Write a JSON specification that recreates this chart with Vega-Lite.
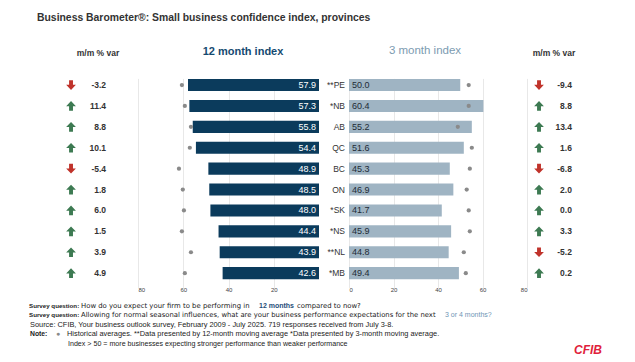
{
  "$schema": "https://vega.github.io/schema/vega-lite/v6.json",
  "width": 635,
  "height": 362,
  "autosize": "none",
  "padding": 0,
  "background": "white",
  "config": {
    "view": {"stroke": null},
    "font": "Liberation Sans",
    "locale": {"number": {"decimal": ".", "thousands": ",", "grouping": [3], "currency": ["$", ""], "minus": "-"}}
  },
  "datasets": {
    "prov": [
      {"prov": "**PE", "idx12": 57.9, "idx3": 50.0, "hist12": 60.6, "hist3": 53.8, "var12": -3.2, "var3": -9.4},
      {"prov": "*NB", "idx12": 57.3, "idx3": 60.4, "hist12": 59.3, "hist3": 53.8, "var12": 11.4, "var3": 8.8},
      {"prov": "AB", "idx12": 55.8, "idx3": 55.2, "hist12": 56.6, "hist3": 48.9, "var12": 8.8, "var3": 13.4},
      {"prov": "QC", "idx12": 54.4, "idx3": 51.6, "hist12": 57.1, "hist3": 55.2, "var12": 10.1, "var3": 1.6},
      {"prov": "BC", "idx12": 48.9, "idx3": 45.3, "hist12": 61.9, "hist3": 54.3, "var12": -5.4, "var3": -6.8},
      {"prov": "ON", "idx12": 48.5, "idx3": 46.9, "hist12": 60.2, "hist3": 52.9, "var12": 1.8, "var3": 2.0},
      {"prov": "*SK", "idx12": 48.0, "idx3": 41.7, "hist12": 59.7, "hist3": 53.8, "var12": 6.0, "var3": 0.0},
      {"prov": "*NS", "idx12": 44.4, "idx3": 45.9, "hist12": 60.6, "hist3": 54.3, "var12": 1.5, "var3": 3.3},
      {"prov": "**NL", "idx12": 43.9, "idx3": 44.8, "hist12": 56.6, "hist3": 51.6, "var12": 3.9, "var3": -5.2},
      {"prov": "*MB", "idx12": 42.6, "idx3": 49.4, "hist12": 59.3, "hist3": 52.5, "var12": 4.9, "var3": 0.2}
    ]
  },
  "resolve": {"scale": {"x": "independent"}, "axis": {"x": "independent"}},
  "layer": [
    {
      "data": {"name": "prov"},
      "encoding": {
        "y": {"field": "prov", "type": "nominal", "sort": null, "axis": null,
              "scale": {"range": [74.6, 283.6], "paddingInner": 0.42, "paddingOuter": 0.21}}
      },
      "layer": [
        {
          "mark": {"type": "bar", "color": "#0b3b5c"},
          "encoding": {
            "x": {"field": "idx12", "type": "quantitative",
                  "scale": {"domain": [0, 80], "range": [319, 138], "nice": false},
                  "axis": {"orient": "bottom", "offset": -78.4, "values": [20, 40, 60, 80], "grid": true, "gridColor": "#e8e8e8", "domain": false, "ticks": false, "labelFontSize": 6, "labelColor": "#444", "labelPadding": 3, "title": null}}
          }
        },
        {
          "mark": {"type": "point", "filled": true, "color": "#8a8a8a", "size": 18, "opacity": 1},
          "encoding": {"x": {"field": "hist12", "type": "quantitative"}}
        },
        {
          "mark": {"type": "text", "align": "right", "baseline": "middle", "dx": -3, "color": "#ffffff", "fontSize": 9},
          "encoding": {"x": {"datum": 0, "type": "quantitative"}, "text": {"field": "idx12", "type": "quantitative", "format": ".1f"}}
        },
        {
          "mark": {"type": "point", "filled": true, "size": 95, "opacity": 1},
          "encoding": {
            "x": {"datum": 109.6, "type": "quantitative"},
            "shape": {"condition": {"test": "datum.var12 < 0", "value": "M0,1L1,-0.05L0.4,-0.05L0.4,-1L-0.4,-1L-0.4,-0.05L-1,-0.05Z"}, "value": "M0,-1L1,0.05L0.4,0.05L0.4,1L-0.4,1L-0.4,0.05L-1,0.05Z"},
            "color": {"condition": {"test": "datum.var12 < 0", "value": "#c0332b"}, "value": "#3d7a52"}
          }
        },
        {
          "mark": {"type": "text", "align": "right", "baseline": "middle", "color": "#333333", "fontSize": 8.5, "fontWeight": "bold"},
          "encoding": {"x": {"datum": 94.1, "type": "quantitative"}, "text": {"field": "var12", "type": "quantitative", "format": ".1f"}}
        }
      ]
    },
    {
      "data": {"name": "prov"},
      "encoding": {
        "y": {"field": "prov", "type": "nominal", "sort": null, "axis": null,
              "scale": {"range": [74.6, 283.6], "paddingInner": 0.42, "paddingOuter": 0.21}}
      },
      "layer": [
        {
          "mark": {"type": "bar", "color": "#9fb4c3"},
          "encoding": {
            "x": {"field": "idx3", "type": "quantitative",
                  "scale": {"domain": [0, 80], "range": [349, 527], "nice": false},
                  "axis": {"orient": "bottom", "offset": -78.4, "values": [0, 20, 40, 60, 80], "grid": true, "gridColor": "#e8e8e8", "domain": false, "ticks": false, "labelFontSize": 6, "labelColor": "#444", "labelPadding": 3, "title": null}}
          }
        },
        {
          "mark": {"type": "point", "filled": true, "color": "#8a8a8a", "size": 18, "opacity": 1},
          "encoding": {"x": {"field": "hist3", "type": "quantitative"}}
        },
        {
          "mark": {"type": "text", "align": "left", "baseline": "middle", "dx": 3, "color": "#1e2b36", "fontSize": 9},
          "encoding": {"x": {"datum": 0, "type": "quantitative"}, "text": {"field": "idx3", "type": "quantitative", "format": ".1f"}}
        },
        {
          "mark": {"type": "text", "align": "right", "baseline": "middle", "dx": -4, "color": "#333333", "fontSize": 8.5},
          "encoding": {"x": {"datum": 0, "type": "quantitative"}, "text": {"field": "prov", "type": "nominal"}}
        },
        {
          "mark": {"type": "point", "filled": true, "size": 95, "opacity": 1},
          "encoding": {
            "x": {"datum": 85.4, "type": "quantitative"},
            "shape": {"condition": {"test": "datum.var3 < 0", "value": "M0,1L1,-0.05L0.4,-0.05L0.4,-1L-0.4,-1L-0.4,-0.05L-1,-0.05Z"}, "value": "M0,-1L1,0.05L0.4,0.05L0.4,1L-0.4,1L-0.4,0.05L-1,0.05Z"},
            "color": {"condition": {"test": "datum.var3 < 0", "value": "#c0332b"}, "value": "#3d7a52"}
          }
        },
        {
          "mark": {"type": "text", "align": "right", "baseline": "middle", "color": "#333333", "fontSize": 8.5, "fontWeight": "bold"},
          "encoding": {"x": {"datum": 100.2, "type": "quantitative"}, "text": {"field": "var3", "type": "quantitative", "format": ".1f"}}
        }
      ]
    },
    {
      "data": {"values": [{}]},
      "layer": [
        {"mark": {"type": "text", "text": "Business Barometer®: Small business confidence index, provinces", "x": 37, "y": 18, "align": "left", "baseline": "middle", "fontSize": 10.4, "fontWeight": "bold", "color": "#333333"}, "encoding": {}},
        {"mark": {"type": "text", "text": "m/m % var", "x": 98, "y": 53, "align": "center", "baseline": "middle", "fontSize": 8.5, "fontWeight": "bold", "color": "#333333"}, "encoding": {}},
        {"mark": {"type": "text", "text": "m/m % var", "x": 554, "y": 53, "align": "center", "baseline": "middle", "fontSize": 8.5, "fontWeight": "bold", "color": "#333333"}, "encoding": {}},
        {"mark": {"type": "text", "text": "12 month index", "x": 243, "y": 52, "align": "center", "baseline": "middle", "fontSize": 11, "fontWeight": "bold", "color": "#154a70"}, "encoding": {}},
        {"mark": {"type": "text", "text": "3 month index", "x": 425, "y": 51, "align": "center", "baseline": "middle", "fontSize": 11.5, "color": "#7c9bb1"}, "encoding": {}},
        {"mark": {"type": "rule", "x": 60, "x2": 328, "y": 67, "color": "#4f6f88", "strokeWidth": 1.5}, "encoding": {}},
        {"mark": {"type": "rule", "x": 328, "x2": 583, "y": 67, "color": "#b9c8d4", "strokeWidth": 1.5}, "encoding": {}},
        {"mark": {"type": "text", "text": "Survey question:", "x": 29, "y": 306, "align": "left", "baseline": "middle", "fontSize": 6.2, "fontWeight": "bold", "color": "#222222"}, "encoding": {}},
        {"mark": {"type": "text", "text": "How do you expect your firm to be performing in", "x": 81, "y": 306, "align": "left", "baseline": "middle", "font": "DejaVu Sans", "fontSize": 6.9, "color": "#222222"}, "encoding": {}},
        {"mark": {"type": "text", "text": "12 months", "x": 259, "y": 306, "align": "left", "baseline": "middle", "fontSize": 7, "fontWeight": "bold", "color": "#1f4e79"}, "encoding": {}},
        {"mark": {"type": "text", "text": "compared to now?", "x": 297, "y": 306, "align": "left", "baseline": "middle", "font": "DejaVu Sans", "fontSize": 6.9, "color": "#222222"}, "encoding": {}},
        {"mark": {"type": "text", "text": "Survey question:", "x": 29, "y": 315.3, "align": "left", "baseline": "middle", "fontSize": 6.2, "fontWeight": "bold", "color": "#222222"}, "encoding": {}},
        {"mark": {"type": "text", "text": "Allowing for normal seasonal influences, what are your business performance expectations for the next", "x": 81, "y": 315.3, "align": "left", "baseline": "middle", "font": "DejaVu Sans", "fontSize": 6.85, "color": "#222222"}, "encoding": {}},
        {"mark": {"type": "text", "text": "3 or 4 months?", "x": 445, "y": 315.3, "align": "left", "baseline": "middle", "fontSize": 7, "color": "#6f95b5"}, "encoding": {}},
        {"mark": {"type": "text", "text": "Source: CFIB, Your business outlook survey, February 2009 - July 2025. 719 responses received from July 3-8.", "x": 30, "y": 324.5, "align": "left", "baseline": "middle", "fontSize": 7.4, "color": "#222222"}, "encoding": {}},
        {"mark": {"type": "text", "text": "Note:", "x": 30, "y": 334, "align": "left", "baseline": "middle", "fontSize": 6.8, "fontWeight": "bold", "color": "#222222"}, "encoding": {}},
        {"mark": {"type": "text", "text": "●", "x": 58, "y": 334, "align": "center", "baseline": "middle", "fontSize": 7, "color": "#8a8a8a"}, "encoding": {}},
        {"mark": {"type": "text", "text": "Historical averages. **Data presented by 12-month moving average *Data presented by 3-month moving average.", "x": 67, "y": 334, "align": "left", "baseline": "middle", "fontSize": 7.4, "color": "#222222"}, "encoding": {}},
        {"mark": {"type": "text", "text": "Index > 50 = more businesses expecting stronger performance than weaker performance", "x": 68, "y": 343.7, "align": "left", "baseline": "middle", "fontSize": 7.1, "color": "#222222"}, "encoding": {}},
        {"mark": {"type": "text", "text": "CFIB", "x": 588, "y": 350, "align": "center", "baseline": "middle", "fontSize": 12, "fontWeight": "bold", "fontStyle": "italic", "color": "#e0213b"}, "encoding": {}},
        {"mark": {"type": "rule", "x": 17, "x2": 617, "y": 360, "color": "#555555", "strokeWidth": 1.5}, "encoding": {}}
      ]
    }
  ]
}
